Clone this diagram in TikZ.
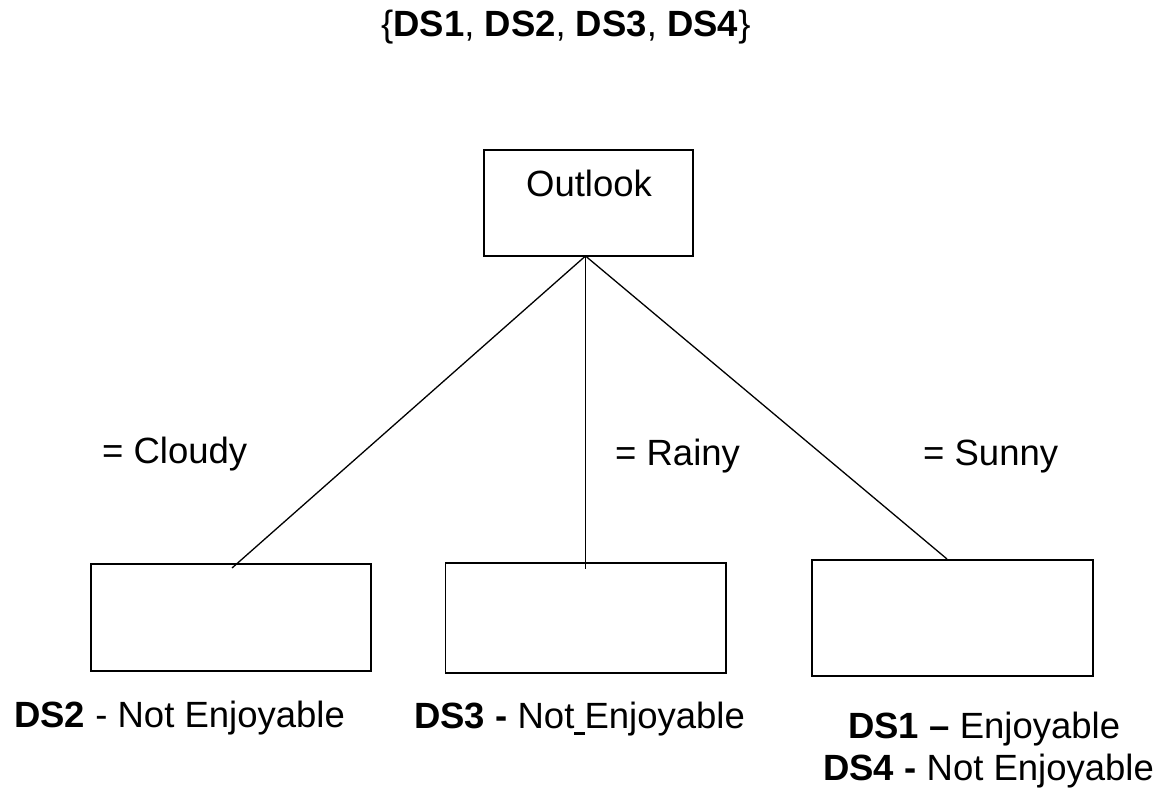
\documentclass[tikz,border=0pt]{standalone}
\usepackage{fontspec}
\setmainfont{Liberation Sans}
\begin{document}
\begin{tikzpicture}[x=1pt,y=-1pt,
  box/.style={draw=black,line width=1.5pt,inner sep=0pt},
  conn/.style={draw=black,line width=1.3pt},
  lbl/.style={anchor=base west,inner sep=0pt,font=\fontsize{36.5}{42}\selectfont}]
\useasboundingbox (0,0) rectangle (1157,792);
% title
\node[lbl] (title) at (381,37) {\{\textbf{DS1}, \textbf{DS2}, \textbf{DS3}, \textbf{DS4}\}};
% root
\node[box,minimum width=209pt,minimum height=106pt] (outlook) at (588.5,203) {};
\node[lbl,anchor=base] (outlooktxt) at (589,196) {Outlook};
% children
\node[box,minimum width=280pt,minimum height=107pt] (cloudy) at (231,617.5) {};
\node[box,minimum width=280.5pt,minimum height=110pt] (rainy) at (585.75,618) {};
\node[box,minimum width=281pt,minimum height=116pt] (sunny) at (952.5,618) {};
% connector ends
\coordinate (apex) at (585.5,256);
\coordinate (ec) at (232,568);
\coordinate (er) at (585.5,569);
\coordinate (es) at (947,559);
\draw[conn] (apex) -- (ec);
\draw[conn] (apex) -- (er);
\draw[conn] (apex) -- (es);
% edge labels
\node[lbl] (lc) at (102,463) {= Cloudy};
\node[lbl] (lr) at (615,465) {= Rainy};
\node[lbl] (ls) at (923,465) {= Sunny};
% leaf labels
\node[lbl] (t2) at (14,727) {\textbf{DS2} - Not Enjoyable};
\node[lbl] (t3) at (414,728) {\textbf{DS3 -} Not\makebox[0.278em][l]{\rule[-0.18em]{0.3em}{0.07em}}Enjoyable};
\node[lbl] (t1) at (848,738) {\textbf{DS1 \textendash} Enjoyable};
\node[lbl] (t4) at (823,780) {\textbf{DS4 -} Not Enjoyable};
\end{tikzpicture}
\end{document}
